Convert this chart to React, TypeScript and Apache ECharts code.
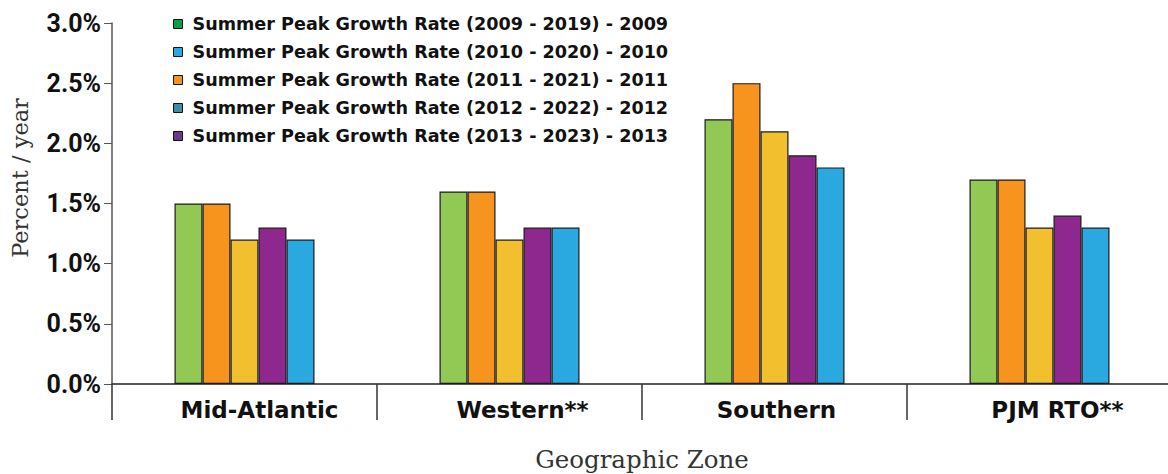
import React, { useEffect, useRef } from "react";
import * as echarts from "echarts";

const zones = ["Mid-Atlantic", "Western**", "Southern", "PJM RTO**"];
const seriesNames = [
  "Summer Peak Growth Rate (2009 - 2019) - 2009",
  "Summer Peak Growth Rate (2010 - 2020) - 2010",
  "Summer Peak Growth Rate (2011 - 2021) - 2011",
  "Summer Peak Growth Rate (2012 - 2022) - 2012",
  "Summer Peak Growth Rate (2013 - 2023) - 2013",
];
const rates2009 = [1.5, 1.6, 2.2, 1.7];
const rates2010 = [1.5, 1.6, 2.5, 1.7];
const rates2011 = [1.2, 1.2, 2.1, 1.3];
const rates2012 = [1.3, 1.3, 1.9, 1.4];
const rates2013 = [1.2, 1.3, 1.8, 1.3];
const seriesValues = [rates2009, rates2010, rates2011, rates2012, rates2013];
const barColors = ["#92c954", "#f7941d", "#f2bf2f", "#8e278e", "#29a9e0"];
const legendColors = ["#0f9d47", "#2aa8e0", "#f7941d", "#3b8ea5", "#6b3a8f"];
// left padding (px) of each zone label, nudging it right of its slot centre
const zoneLabelPad = [30, 26, 4, 36];

const SANS = "'DejaVu Sans', sans-serif";
const NUM = "Roboto, 'Liberation Sans', sans-serif";
const SERIF = "'DejaVu Serif', serif";

export default function App() {
  const ref = useRef<HTMLDivElement>(null);

  useEffect(() => {
    if (!ref.current) return;
    const chart = echarts.init(ref.current, undefined, { renderer: "svg" });
    const zoneRich: Record<string, object> = {};
    zoneLabelPad.forEach((p, i) => {
      zoneRich[`z${i}`] = {
        fontFamily: SANS,
        fontWeight: "bold",
        fontSize: 23,
        color: "#111",
        padding: [0, 0, 0, p],
      };
    });
    chart.setOption({
      animation: false,
      grid: {
        left: 112,
        right: -4,
        top: 23,
        bottom: 90,
        containLabel: false,
        outerBoundsMode: "none",
      },
      legend: {
        orient: "vertical",
        left: 168,
        top: 10,
        padding: 5,
        itemWidth: 9,
        itemHeight: 9,
        itemGap: 10,
        icon: "rect",
        textStyle: {
          fontFamily: SANS,
          fontWeight: "bold",
          fontSize: 17.6,
          color: "#111",
          padding: [0, 0, 0, 5],
        },
        data: seriesNames.map((name, i) => ({
          name,
          itemStyle: { color: legendColors[i], borderColor: "#111", borderWidth: 1 },
        })),
      },
      xAxis: {
        type: "category",
        data: zones,
        name: "Geographic Zone",
        nameLocation: "middle",
        nameGap: 63,
        nameTextStyle: { fontFamily: SERIF, fontSize: 24.5, color: "#333" },
        axisLine: { lineStyle: { color: "#222", width: 1.5 } },
        axisTick: {
          show: true,
          interval: 0,
          length: 36,
          lineStyle: { color: "#333", width: 1.5 },
        },
        axisLabel: {
          interval: 0,
          hideOverlap: false,
          margin: 14,
          fontFamily: SANS,
          fontWeight: "bold",
          fontSize: 23,
          color: "#111",
          formatter: (value: string, index: number) => `{z${index}|${value}}`,
          rich: zoneRich,
        },
      },
      yAxis: {
        type: "value",
        min: 0,
        max: 3,
        interval: 0.5,
        splitLine: { show: false },
        axisLine: { show: true, lineStyle: { color: "#555", width: 1.5 } },
        axisTick: { show: true, length: 8, lineStyle: { color: "#555" } },
        axisLabel: {
          margin: 11,
          fontFamily: NUM,
          fontWeight: "bold",
          fontSize: 25,
          color: "#111",
          formatter: (v: number) => `${v.toFixed(1)}%`,
        },
      },
      graphic: [
        {
          type: "text",
          x: 20,
          y: 178,
          rotation: Math.PI / 2,
          style: {
            text: "Percent / year",
            fontFamily: SERIF,
            fontSize: 22.5,
            fill: "#333",
            align: "center",
            verticalAlign: "middle",
          },
        },
      ],
      series: seriesNames.map((name, i) => ({
        name,
        type: "bar",
        data: seriesValues[i],
        barWidth: 28,
        barGap: "0%",
        itemStyle: { color: barColors[i], borderColor: "#1a1a1a", borderWidth: 1.2 },
      })),
    });
    return () => chart.dispose();
  }, []);

  return (
    <div
      ref={ref}
      style={{ position: "absolute", left: 0, top: 0, width: 1168, height: 474 }}
    />
  );
}
